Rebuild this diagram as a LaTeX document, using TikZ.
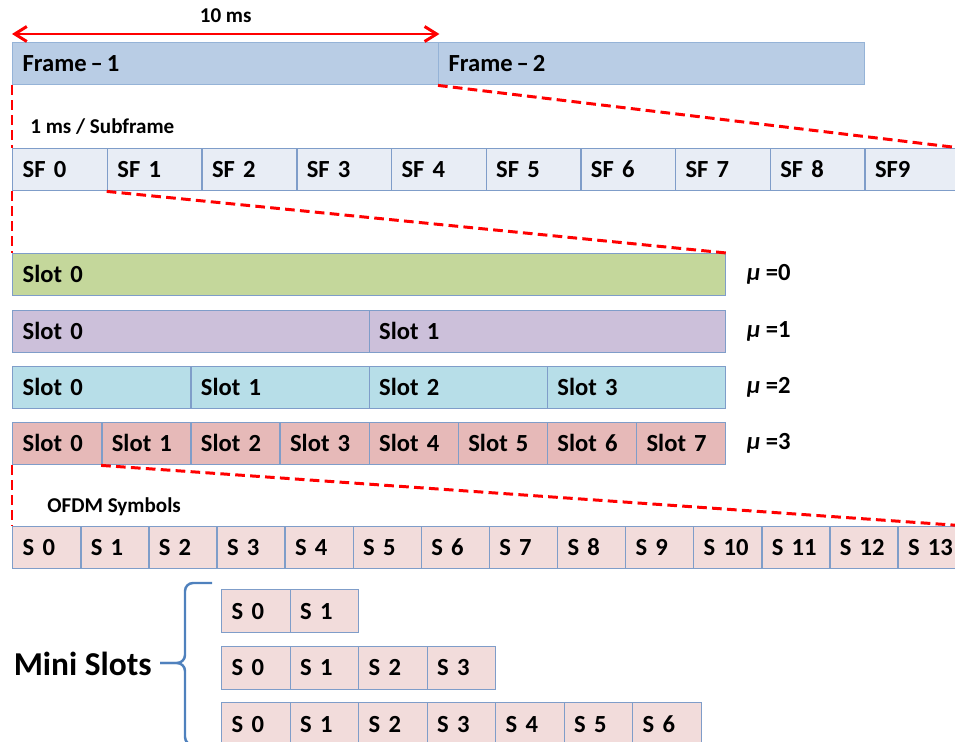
\documentclass[tikz,border=0pt]{standalone}
\usepackage{fontspec}
\setmainfont{Carlito}
\usetikzlibrary{arrows.meta,positioning}
\definecolor{cellline}{HTML}{7F9DC9}
\definecolor{frameline}{HTML}{95B3D7}
\definecolor{framecol}{HTML}{B9CDE5}
\definecolor{sfcol}{HTML}{E8EDF5}
\definecolor{muzero}{HTML}{C4D79B}
\definecolor{muone}{HTML}{CCC0DA}
\definecolor{mutwo}{HTML}{B7DEE8}
\definecolor{muthree}{HTML}{E6B9B8}
\definecolor{symcol}{HTML}{F2DCDB}
\definecolor{zoomred}{HTML}{FF0000}
\definecolor{bracecol}{HTML}{4F81BD}

\begin{document}
\begin{tikzpicture}[
		cell/.style={draw=cellline, line width=0.8pt, anchor=north west,
			minimum height=0.84cm, inner xsep=0.2cm, inner ysep=0pt, align=left,
			text height=11pt, text depth=1.6pt,
			font=\fontsize{14}{16}\selectfont\bfseries},
		zoomline/.style={draw=zoomred, dash pattern=on 5.5pt off 3pt, line width=1.7pt},
		smalllabel/.style={anchor=west, inner sep=0pt, font=\fontsize{12}{14}\selectfont\bfseries},
		mulabel/.style={inner sep=0pt, font=\fontsize{14}{16}\selectfont\bfseries},
		bracepen/.style={draw=bracecol, line width=1.4pt, rounded corners=0.16cm}
		]
		\useasboundingbox (0,0) rectangle (19.1,-14.84);
		
		% frames
		\node[cell, draw=frameline, fill=framecol, text width=8.12cm] (fr1) at (0.24,-0.84) {Frame\hspace{0.16em}–\hspace{0.16em}1};
		\node[cell, draw=frameline, fill=framecol, text width=8.12cm] (fr2) at (8.76,-0.84) {Frame\hspace{0.16em}–\hspace{0.16em}2};
		\draw[zoomred, line width=1.7pt, {Straight Barb[length=0.24cm, width=0.3cm]}-{Straight Barb[length=0.24cm, width=0.3cm]}]
		([yshift=0.16cm]fr1.north west) -- ([yshift=0.16cm]fr1.north east)
		node [midway, above=0.2cm, inner sep=0pt, text=black, font=\fontsize{12}{14}\selectfont\bfseries] (tenms) {10 ms};
		
		% subframes
		\node[smalllabel] (sflabel) at (0.6,-2.54) {1 ms / Subframe};
		\foreach \i/\t in {0/SF 0,1/SF 1,2/SF 2,3/SF 3,4/SF 4,5/SF 5,6/SF 6,7/SF 7,8/SF 8,9/SF9}
		\node[cell, fill=sfcol, text width=1.494cm] (sf\i) at ({0.24+1.894*\i},-2.96) {\t};
		
		% slots
		\node[cell, fill=muzero, text width=13.86cm] (m0s0) at (0.24,-5.06) {Slot 0};
		\foreach \i in {0,1}
		\node[cell, fill=muone, text width=6.73cm] (m1s\i) at ({0.24+7.13*\i},-6.19) {Slot \i};
		\foreach \i in {0,...,3}
		\node[cell, fill=mutwo, text width=3.165cm] (m2s\i) at ({0.24+3.565*\i},-7.32) {Slot \i};
		\foreach \i in {0,...,7}
		\node[cell, fill=muthree, text width=1.3825cm] (m3s\i) at ({0.24+1.7825*\i},-8.44) {Slot \i};
		
		\node[mulabel, right=0.4cm of m0s0.east] (mu0) {\textit{μ} =0};
		\node[mulabel, right=0.4cm of m1s1.east] (mu1) {\textit{μ} =1};
		\node[mulabel, right=0.4cm of m2s3.east] (mu2) {\textit{μ} =2};
		\node[mulabel, right=0.4cm of m3s7.east] (mu3) {\textit{μ} =3};
		
		% symbols
		\node[smalllabel] (symlabel) at (0.94,-10.13) {OFDM Symbols};
		\foreach \i in {0,...,13}
		\node[cell, fill=symcol, text width=0.962cm] (sym\i) at ({0.24+1.362*\i},-10.52) {S \i};
		
		% mini slots
		\foreach \i in {0,1}
		\node[cell, fill=symcol, minimum height=0.86cm, text width=0.97cm] (ma\i) at ({4.42+1.37*\i},-11.78) {S \i};
		\foreach \i in {0,...,3}
		\node[cell, fill=symcol, minimum height=0.86cm, text width=0.97cm] (mb\i) at ({4.42+1.37*\i},-12.91) {S \i};
		\foreach \i in {0,...,6}
		\node[cell, fill=symcol, minimum height=0.86cm, text width=0.97cm] (mc\i) at ({4.42+1.37*\i},-14.04) {S \i};
		
		\node[anchor=east, inner sep=0pt, font=\fontsize{19}{22}\selectfont\bfseries] (mini) at (3.04,-13.28) {Mini Slots};
		\coordinate (brtop) at (4.24,-11.66);
		\coordinate (brbot) at (4.24,-14.9);
		\draw[bracepen] (brtop) -- (3.7,-11.66) -- (3.7,-13.26) -- ([xshift=0.16cm]mini.east |- 0,-13.26);
		\draw[bracepen] (brbot) -- (3.7,-14.9) -- (3.7,-13.26) -- ([xshift=0.16cm]mini.east |- 0,-13.26);
		
		% zoom lines
		\draw[zoomline] (fr1.south west) -- (sf0.north west);
		\draw[zoomline] (fr2.south west) -- (sf9.north east);
		\draw[zoomline] (sf0.south west) -- (m0s0.north west);
		\draw[zoomline] (sf1.south west) -- (m0s0.north east);
		\draw[zoomline] (m3s0.south west) -- (sym0.north west);
		\draw[zoomline] (m3s1.south west) -- (sym13.north east);
	\end{tikzpicture}
\end{document}
